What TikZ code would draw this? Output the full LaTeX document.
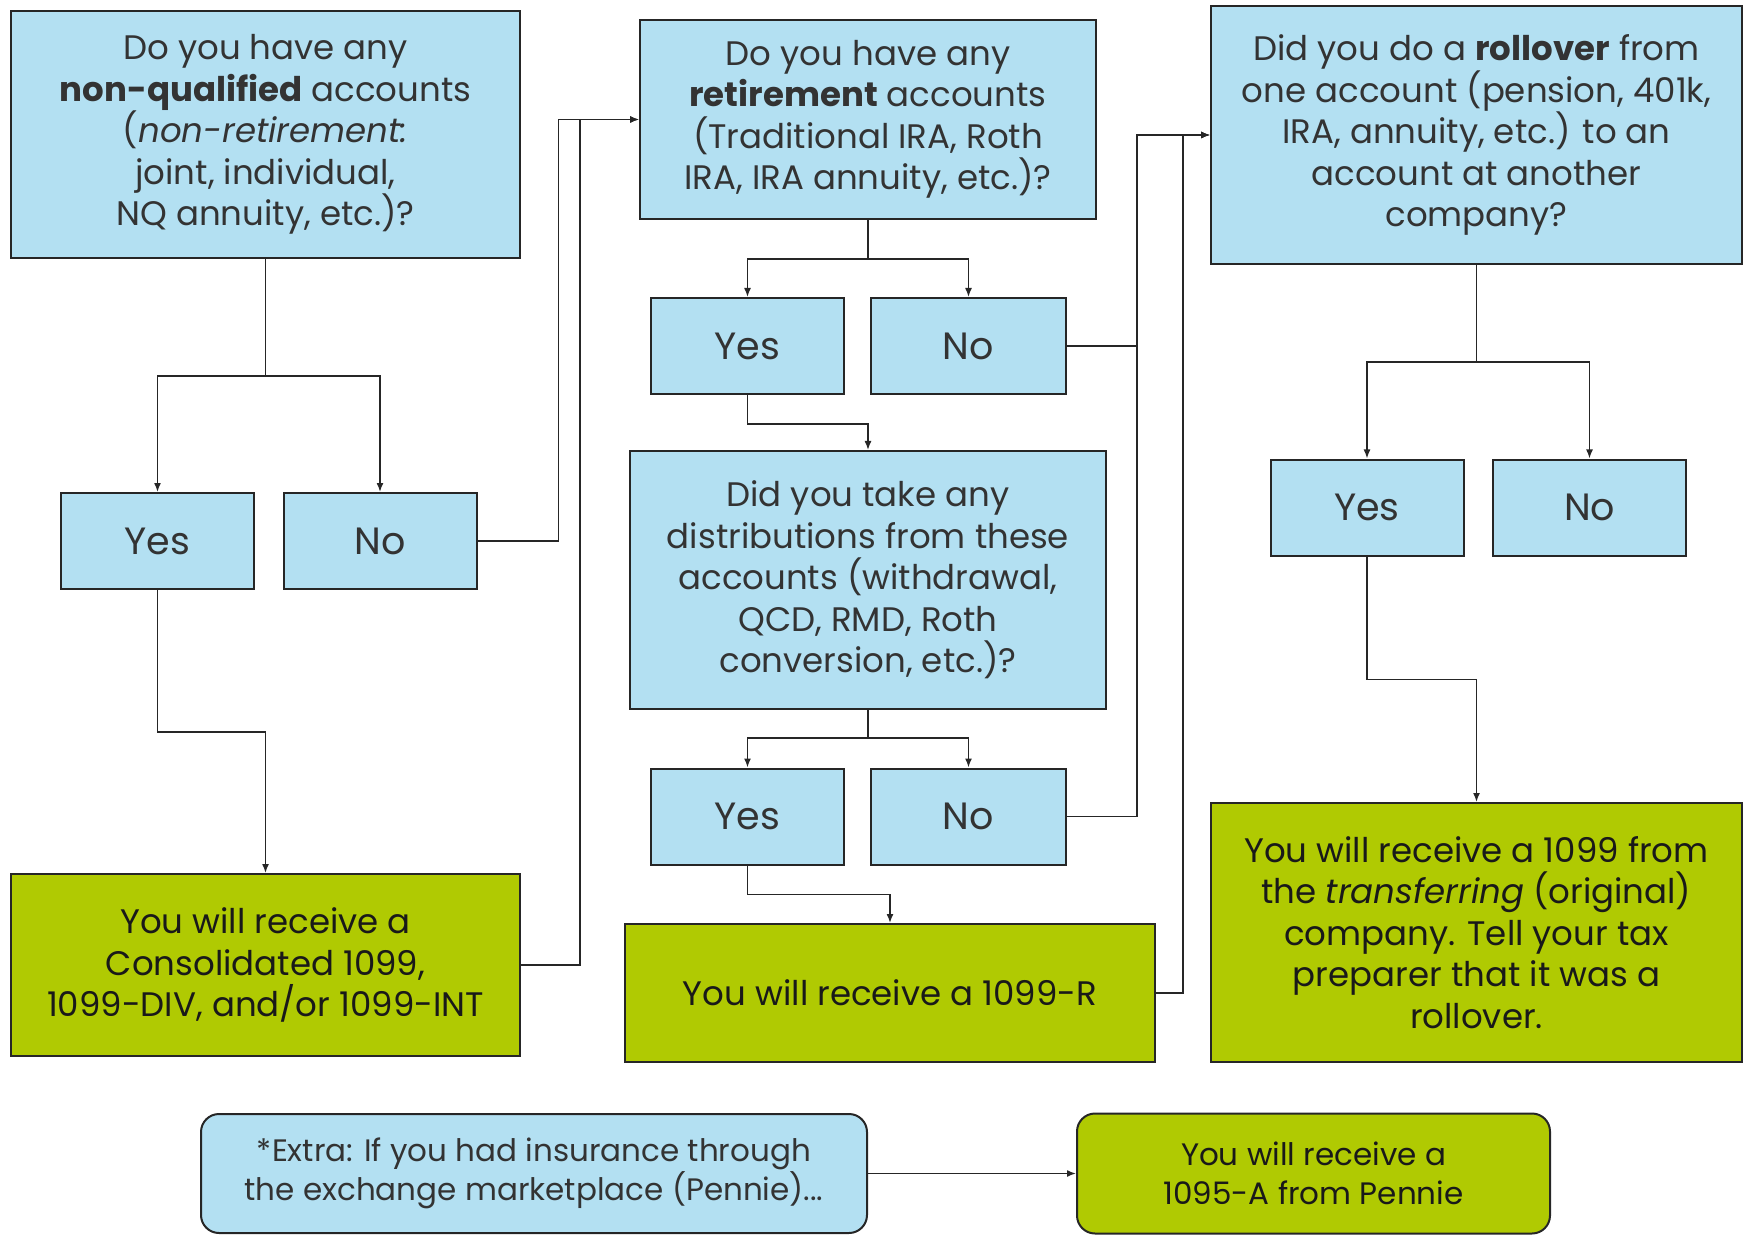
\documentclass[tikz,border=0pt]{standalone}
\usepackage{fontspec}
\setmainfont{Poppins}
\usetikzlibrary{arrows.meta}
\definecolor{qblue}{RGB}{179,224,242}
\definecolor{rgreen}{RGB}{176,202,2}

\begin{document}
\begin{tikzpicture}[x=0.5pt,y=-0.5pt,
        qbox/.style={draw=black!85, line width=1pt, fill=qblue, text=black!80, align=center, inner sep=0pt,
            font=\fontsize{17}{20.75}\selectfont},
        rbox/.style={qbox, fill=rgreen, text=black!90},
        ans/.style={qbox, minimum width=96.5pt, minimum height=48pt, font=\fontsize{19}{21}\selectfont},
        link/.style={draw=black!85, line width=0.75pt},
        arr/.style={link, -{Latex[length=4.5pt,width=3.5pt]}}]
    \useasboundingbox (0,0) rectangle (1745,1235);

    % column 1
    \node[qbox, minimum width=254.5pt, minimum height=123.5pt] (nq) at (265.5,134.5)
        {Do you have any\\ \textbf{non-qualified} accounts\\ (\textit{non-retirement:}\\ joint, individual,\\ NQ annuity, etc.)?};
    \node[ans] (nqyes) at (157.5,541) {Yes};
    \node[ans] (nqno) at (380,541) {No};
    \node[rbox, minimum width=254.5pt, minimum height=91pt] (nqres) at (265.5,965)
        {You will receive a\\ Consolidated 1099,\\ 1099-DIV, and/or 1099-INT};

    % column 2
    \node[qbox, minimum width=228pt, minimum height=99.5pt] (ret) at (868,119.5)
        {Do you have any\\ \textbf{retirement} accounts\\ (Traditional IRA, Roth\\ IRA, IRA annuity, etc.)?};
    \node[ans] (retyes) at (747.5,346) {Yes};
    \node[ans, minimum width=97.5pt] (retno) at (968.5,346) {No};
    \node[qbox, minimum width=238pt, minimum height=129pt] (dist) at (868,580)
        {Did you take any\\ distributions from these\\ accounts (withdrawal,\\ QCD, RMD, Roth\\ conversion, etc.)?};
    \node[ans] (distyes) at (747.5,816.5) {Yes};
    \node[ans, minimum width=97.5pt] (distno) at (968.5,816.5) {No};
    \node[rbox, minimum width=265pt, minimum height=69pt] (distres) at (890,993)
        {You will receive a 1099-R};

    % column 3
    \node[qbox, minimum width=265.5pt, minimum height=129pt] (roll) at (1476.5,135)
        {Did you do a \textbf{rollover} from\\ one account (pension, 401k,\\ IRA, annuity, etc.) to an\\ account at another\\ company?};
    \node[ans] (rollyes) at (1367,507.5) {Yes};
    \node[ans] (rollno) at (1589.5,507.5) {No};
    \node[rbox, minimum width=265.5pt, minimum height=129.5pt] (rollres) at (1476.5,932.5)
        {You will receive a 1099 from\\ the \textit{transferring} (original)\\ company. Tell your tax\\ preparer that it was a\\ rollover.};

    % extra
    \node[qbox, rounded corners=9pt, minimum width=333pt, minimum height=59.5pt,
        font=\fontsize{15.5}{19.5}\selectfont] (extra) at (534,1173.5)
        {*Extra: If you had insurance through\\ the exchange marketplace (Pennie)...};
    \node[rbox, rounded corners=9pt, minimum width=236.5pt, minimum height=60pt,
        font=\fontsize{15.5}{19.5}\selectfont] (pennie) at (1313.5,1173.5)
        {You will receive a\\ 1095-A from Pennie};

    % connectors
    \draw[arr] (nq.south) -- ++(0,117) -| (nqyes.north);
    \draw[arr] (nq.south) ++(0,117) -| (nqno.north);
    \draw[arr] (nqyes.south) -- ++(0,142) -| (nqres.north);
    \draw[arr] (nqno.east) -- ++(81,0) |- (ret.west);
    \draw[arr] (nqres.east) -- ++(59,0) |- (ret.west);

    \draw[arr] (ret.south) -- ++(0,39) -| (retyes.north);
    \draw[arr] (ret.south) ++(0,39) -| (retno.north);
    \draw[arr] (retyes.south) -- ++(0,29) -| (dist.north);
    \draw[arr] (dist.south) -- ++(0,28) -| (distyes.north);
    \draw[arr] (dist.south) ++(0,28) -| (distno.north);
    \draw[arr] (distyes.south) -- ++(0,29) -| (distres.north);
    \draw[arr] (retno.east) -- ++(70,0) |- (roll.west);
    \draw[arr] (distno.east) -- ++(70,0) |- (roll.west);
    \draw[arr] (distres.east) -- ++(27,0) |- (roll.west);

    \draw[arr] (roll.south) -- ++(0,97) -| (rollyes.north);
    \draw[arr] (roll.south) ++(0,97) -| (rollno.north);
    \draw[arr] (rollyes.south) -- ++(0,123) -| (rollres.north);

    \draw[arr] (extra.east) -- (pennie.west);
\end{tikzpicture}
\end{document}
